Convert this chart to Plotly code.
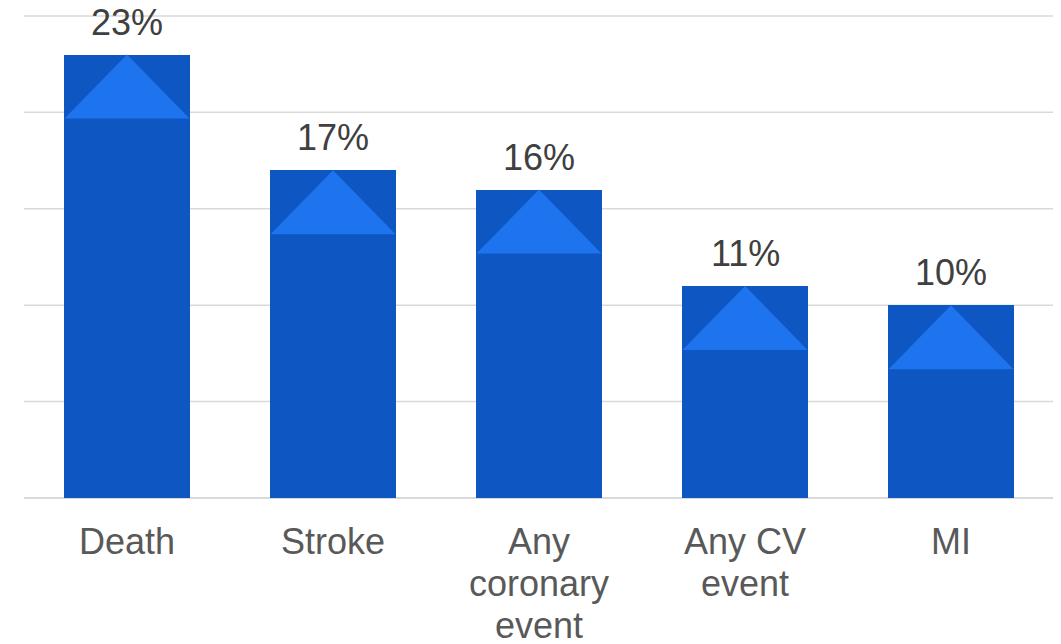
import plotly.graph_objects as go

categories = ["Death", "Stroke", "Any coronary event", "Any CV event", "MI"]
label_lines = [["Death"], ["Stroke"], ["Any", "coronary", "event"], ["Any CV", "event"], ["MI"]]
values = [23, 17, 16, 11, 10]
value_labels = ["23%", "17%", "16%", "11%", "10%"]
grid_values = [5, 10, 15, 20, 25]

BAR_W = 0.607
TRI_H = 3.32
DARK = "#0E56C1"
LIGHT = "#1E73EE"
GRID = "#d9d9d9"
FONT = "Liberation Sans, Arial, sans-serif"

xs = list(range(len(categories)))
fig = go.Figure()
fig.add_trace(go.Bar(x=xs, y=values, width=BAR_W, marker=dict(color=DARK, line=dict(width=0)),
                     hoverinfo="skip", showlegend=False))

for x, v in zip(xs, values):
    fig.add_trace(go.Scatter(
        x=[x - BAR_W / 2, x, x + BAR_W / 2, x - BAR_W / 2],
        y=[v - TRI_H, v, v - TRI_H, v - TRI_H],
        fill="toself", fillcolor=LIGHT, mode="lines",
        line=dict(width=0, color=LIGHT), hoverinfo="skip", showlegend=False))

annotations = []
for x, v, t in zip(xs, values, value_labels):
    annotations.append(dict(x=x, y=v, xref="x", yref="y", text=t, showarrow=False,
                            yanchor="bottom", yshift=10,
                            font=dict(family=FONT, size=36, color="#404040")))
for x, lines in zip(xs, label_lines):
    for j, ln in enumerate(lines):
        annotations.append(dict(x=x, y=0, xref="x", yref="paper", text=ln, showarrow=False,
                                yanchor="top", yshift=-21 - 42 * j,
                                font=dict(family=FONT, size=36, color="#595959")))

shapes = [dict(type="line", xref="paper", yref="y", x0=0, x1=1, y0=g, y1=g, layer="below",
               line=dict(color=GRID, width=1.5)) for g in grid_values]

fig.update_layout(
    width=1053, height=636,
    margin=dict(l=16, r=0, t=7, b=146),
    paper_bgcolor="white", plot_bgcolor="white",
    xaxis=dict(range=[-0.5, 4.534], showticklabels=False, showgrid=False, zeroline=False,
               fixedrange=True),
    yaxis=dict(range=[0, 25.05], showticklabels=False, showgrid=False,
               zeroline=True, zerolinecolor=GRID, zerolinewidth=1.5),
    annotations=annotations,
    shapes=shapes,
    bargap=0,
)

fig.write_html("out.html")
